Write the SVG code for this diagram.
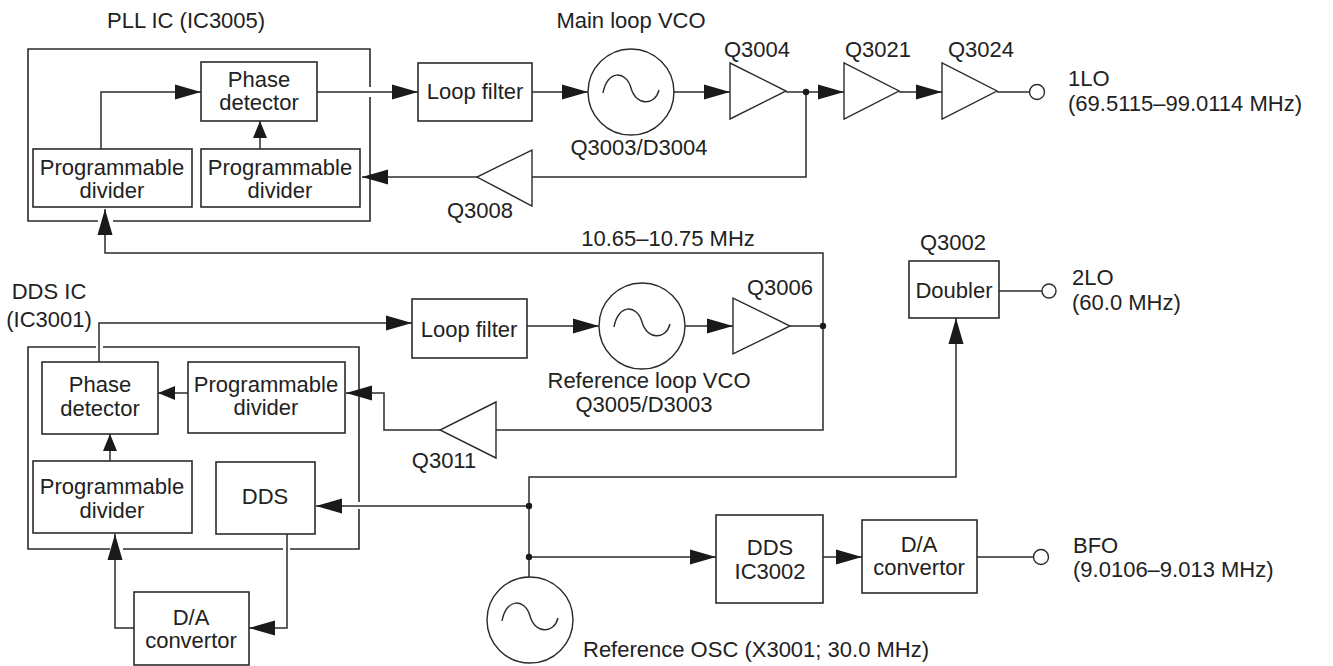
<svg xmlns="http://www.w3.org/2000/svg" xmlns:xlink="http://www.w3.org/1999/xlink" width="1333" height="666" viewBox="0 0 1333 666">
<style>
.box{fill:#fff;stroke:#2b2b2b;stroke-width:1.6}
.ic{fill:none;stroke:#2b2b2b;stroke-width:1.6}
.amp{fill:#fff;stroke:#2b2b2b;stroke-width:1.4}
.osc{fill:#fff;stroke:#2b2b2b;stroke-width:1.4}
.wave{fill:none;stroke:#2b2b2b;stroke-width:1.4}
.port{fill:#fff;stroke:#2b2b2b;stroke-width:1.4}
.dot{fill:#1a1a1a}
.ln{fill:none;stroke:#2b2b2b;stroke-width:1.5}
.a{marker-end:url(#ah)}
.s{marker-end:url(#as)}
text{font-family:"Liberation Sans",Arial,Helvetica,sans-serif;font-size:22px;fill:#222}
.m{text-anchor:middle}
</style>
<defs>
<marker id="ah" markerUnits="userSpaceOnUse" markerWidth="27" markerHeight="16" refX="26" refY="7.5" orient="auto" overflow="visible">
<path d="M0,0 L26,7.5 L0,15 Z" fill="#1a1a1a"/>
</marker>
<marker id="as" markerUnits="userSpaceOnUse" markerWidth="18" markerHeight="15" refX="17" refY="7" orient="auto" overflow="visible">
<path d="M0,0 L17,7 L0,14 Z" fill="#1a1a1a"/>
</marker>
<g id="oscsym">
<circle class="osc" r="43"/>
<path class="wave" d="M-28,1 C-24,-22 -5,-22 0,-4 C5,14 24,14 28,-2"/>
</g>
</defs>

<g id="pll-ic">
<path class="ic" d="M98,221 H28 V49 H370 V87 M370,97 V221 H113"/>
<text x="107" y="28">PLL IC (IC3005)</text>
</g>
<g id="pll-phase-detector">
<rect class="box" x="201" y="62" width="116" height="59"/>
<text class="m" x="259" y="87">Phase</text>
<text class="m" x="259" y="110">detector</text>
</g>
<g id="pll-divider-ref">
<rect class="box" x="33" y="149" width="159" height="58"/>
<text class="m" x="112" y="175">Programmable</text>
<text class="m" x="112" y="198">divider</text>
</g>
<g id="pll-divider-main">
<rect class="box" x="201" y="149" width="159" height="58"/>
<text class="m" x="280" y="175">Programmable</text>
<text class="m" x="280" y="198">divider</text>
</g>
<g id="loop-filter-main">
<rect class="box" x="418" y="63" width="114" height="58"/>
<text class="m" x="475" y="99">Loop filter</text>
</g>
<g id="main-vco">
<use xlink:href="#oscsym" x="631" y="92"/>
<text class="m" x="631" y="28">Main loop VCO</text>
<text class="m" x="639" y="155">Q3003/D3004</text>
</g>
<g id="q3004">
<polygon class="amp" points="730,63 730,119 786,91"/>
<text class="m" x="757" y="57">Q3004</text>
</g>
<g id="q3021">
<polygon class="amp" points="844,63 844,119 899,91"/>
<text class="m" x="878" y="57">Q3021</text>
</g>
<g id="q3024">
<polygon class="amp" points="942,63 942,119 997,91"/>
<text class="m" x="981" y="57">Q3024</text>
</g>
<g id="out-1lo">
<circle class="port" cx="1037" cy="92" r="7.5"/>
<text x="1068" y="86">1LO</text>
<text x="1068" y="111">(69.5115–99.0114 MHz)</text>
</g>
<g id="q3008">
<polygon class="amp" points="532,150 532,206 477,177"/>
<text class="m" x="480" y="218">Q3008</text>
</g>

<g id="dds-ic">
<path class="ic" d="M96,347 H28 V549 H110 M123,549 H283 M290,549 H359 V509 M359,502 V347 H103"/>
<text class="m" x="49" y="299">DDS IC</text>
<text class="m" x="49" y="327">(IC3001)</text>
</g>
<g id="dds-phase-detector">
<rect class="box" x="42" y="362" width="116" height="72"/>
<text class="m" x="100" y="392">Phase</text>
<text class="m" x="100" y="416">detector</text>
</g>
<g id="dds-divider-loop">
<rect class="box" x="188" y="362" width="157" height="71"/>
<text class="m" x="266" y="392">Programmable</text>
<text class="m" x="266" y="415">divider</text>
</g>
<g id="dds-divider-ref">
<rect class="box" x="33" y="461" width="159" height="72"/>
<text class="m" x="112" y="494">Programmable</text>
<text class="m" x="112" y="518">divider</text>
</g>
<g id="dds-core">
<rect class="box" x="216" y="462" width="99" height="72"/>
<text class="m" x="265" y="504">DDS</text>
</g>
<g id="da-left">
<rect class="box" x="134" y="592" width="115" height="73"/>
<text class="m" x="191" y="625">D/A</text>
<text class="m" x="191" y="648">convertor</text>
</g>
<g id="loop-filter-ref">
<rect class="box" x="412" y="299" width="115" height="59"/>
<text class="m" x="469" y="337">Loop filter</text>
</g>
<g id="ref-vco">
<use xlink:href="#oscsym" x="642" y="326"/>
<text class="m" x="649" y="388">Reference loop VCO</text>
<text class="m" x="644" y="412">Q3005/D3003</text>
</g>
<g id="q3006">
<polygon class="amp" points="733,298 733,354 790,326"/>
<text class="m" x="780" y="295">Q3006</text>
</g>
<g id="q3011">
<polygon class="amp" points="496,402 496,458 440,430"/>
<text class="m" x="444" y="468">Q3011</text>
</g>
<g id="label-1065">
<text class="m" x="668" y="246">10.65–10.75 MHz</text>
</g>
<g id="doubler">
<rect class="box" x="909" y="261" width="90" height="57"/>
<text class="m" x="954" y="298">Doubler</text>
<text class="m" x="953" y="250">Q3002</text>
</g>
<g id="out-2lo">
<circle class="port" cx="1049" cy="291" r="7"/>
<text x="1072" y="285">2LO</text>
<text x="1072" y="310">(60.0 MHz)</text>
</g>
<g id="ref-osc">
<use xlink:href="#oscsym" x="530" y="620"/>
<text x="583" y="657">Reference OSC (X3001; 30.0 MHz)</text>
</g>
<g id="dds-ic3002">
<rect class="box" x="716" y="515" width="107" height="88"/>
<text class="m" x="770" y="555">DDS</text>
<text class="m" x="770" y="579">IC3002</text>
</g>
<g id="da-right">
<rect class="box" x="862" y="520" width="115" height="73"/>
<text class="m" x="919" y="552">D/A</text>
<text class="m" x="919" y="575">convertor</text>
</g>
<g id="out-bfo">
<circle class="port" cx="1041" cy="557" r="7.5"/>
<text x="1073" y="553">BFO</text>
<text x="1073" y="577">(9.0106–9.013 MHz)</text>
</g>

<g id="connectors">
<path class="ln a" d="M101,149 V92 H201"/>
<path class="ln s" d="M260,149 V121"/>
<path class="ln a" d="M317,92 H418"/>
<path class="ln a" d="M532,92 H588"/>
<path class="ln a" d="M673,92 H730"/>
<path class="ln a" d="M786,92 H844"/>
<path class="ln a" d="M899,92 H942"/>
<path class="ln" d="M997,92 H1029.5"/>
<path class="ln" d="M806,92 V177 H532"/>
<path class="ln a" d="M477,177 H362"/>
<path class="ln a" d="M496,430 H823 V253 H105 V209"/>
<path class="ln" d="M790,326 H823"/>
<path class="ln a" d="M440,430 H384 V393 H346"/>
<path class="ln a" d="M99,362 V323 H412"/>
<path class="ln a" d="M527,326 H599"/>
<path class="ln a" d="M685,326 H733"/>
<path class="ln s" d="M188,393 H158"/>
<path class="ln s" d="M110,461 V434"/>
<path class="ln a" d="M134,628 H115 V534"/>
<path class="ln a" d="M287,534 V628 H249"/>
<path class="ln a" d="M529,506 H316"/>
<path class="ln a" d="M529,577 V477 H956 V318"/>
<path class="ln a" d="M529,557 H716"/>
<path class="ln a" d="M823,557 H862"/>
<path class="ln" d="M977,557 H1033.5"/>
<path class="ln" d="M999,291 H1042"/>
<circle class="dot" cx="806" cy="92" r="3.2"/>
<circle class="dot" cx="823" cy="326" r="3.2"/>
<circle class="dot" cx="529" cy="506" r="3.2"/>
<circle class="dot" cx="529" cy="557" r="3.2"/>
</g>
</svg>
